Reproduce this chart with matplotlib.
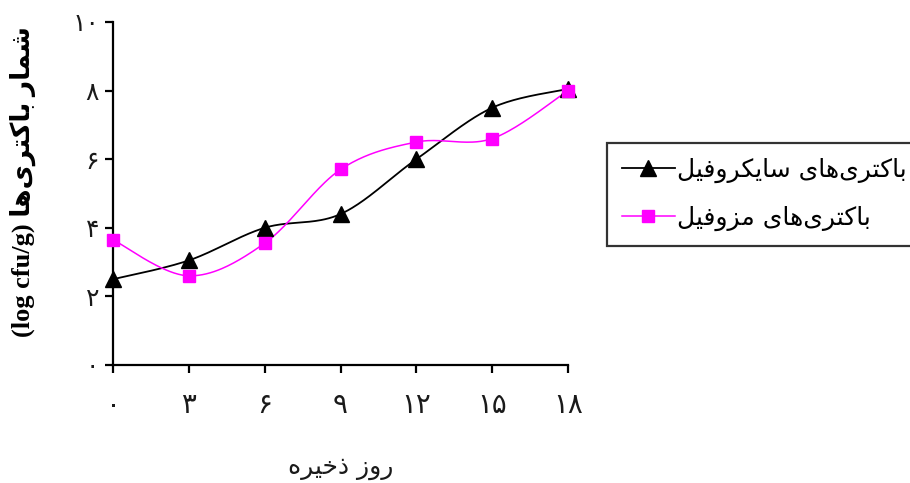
import numpy as np
import matplotlib
matplotlib.use("Agg")
import matplotlib.pyplot as plt
from matplotlib.lines import Line2D

# ---------------- data ----------------
days = [0, 3, 6, 9, 12, 15, 18]
psychro = [2.5, 3.05, 4.0, 4.4, 6.0, 7.5, 8.05]
meso = [3.65, 2.6, 3.55, 5.7, 6.5, 6.6, 8.0]

x_ticks = [0, 3, 6, 9, 12, 15, 18]
x_tick_labels = ['۰', '۳', '۶', '۹', '۱۲', '۱۵', '۱۸']
y_ticks = [0, 2, 4, 6, 8, 10]
y_tick_labels = ['۰', '۲', '۴', '۶', '۸', '۱۰']

label_psychro = 'باکتری‌های سایکروفیل'
label_meso = 'باکتری‌های مزوفیل'
x_title = 'روز ذخیره'
y_title_fa = 'شمار باکتری‌ها'
y_title_unit = '(log cfu/g)'

# ------------- minimal Persian shaping (presentation forms, visual order) -------------
FORMS = {  # isolated, final, initial, medial
    'ا': ('\uFE8D', '\uFE8E', None, None),
    'ب': ('\uFE8F', '\uFE90', '\uFE91', '\uFE92'),
    'ت': ('\uFE95', '\uFE96', '\uFE97', '\uFE98'),
    'خ': ('\uFEA5', '\uFEA6', '\uFEA7', '\uFEA8'),
    'ذ': ('\uFEAB', '\uFEAC', None, None),
    'ر': ('\uFEAD', '\uFEAE', None, None),
    'ز': ('\uFEAF', '\uFEB0', None, None),
    'س': ('\uFEB1', '\uFEB2', '\uFEB3', '\uFEB4'),
    'ش': ('\uFEB5', '\uFEB6', '\uFEB7', '\uFEB8'),
    'ف': ('\uFED1', '\uFED2', '\uFED3', '\uFED4'),
    'ک': ('\uFB8E', '\uFB8F', '\uFB90', '\uFB91'),
    'ل': ('\uFEDD', '\uFEDE', '\uFEDF', '\uFEE0'),
    'م': ('\uFEE1', '\uFEE2', '\uFEE3', '\uFEE4'),
    'ه': ('\uFEE9', '\uFEEA', '\uFEEB', '\uFEEC'),
    'و': ('\uFEED', '\uFEEE', None, None),
    'ی': ('\uFBFC', '\uFBFD', '\uFBFE', '\uFBFF'),
}


def rtl(text):
    out = []
    n = len(text)
    for i, c in enumerate(text):
        if c == '\u200c':
            continue
        if c not in FORMS:
            out.append(c)
            continue
        p = text[i - 1] if i > 0 else ''
        q = text[i + 1] if i < n - 1 else ''
        jp = p in FORMS and FORMS[p][2] is not None
        jn = q in FORMS and FORMS[c][2] is not None
        f = FORMS[c]
        if jp and jn:
            out.append(f[3])
        elif jp:
            out.append(f[1])
        elif jn:
            out.append(f[2])
        else:
            out.append(f[0])
    return ''.join(reversed(out))


def smooth(x, y, n=40):
    x = np.asarray(x, float)
    y = np.asarray(y, float)
    P = np.column_stack([x, y])
    P = np.vstack([P[0], P, P[-1]])
    xs, ys = [], []
    t = np.linspace(0, 1, n)
    for i in range(1, len(P) - 2):
        p0, p1, p2, p3 = P[i - 1], P[i], P[i + 1], P[i + 2]
        c1 = p1 + (p2 - p0) / 6.0
        c2 = p2 - (p3 - p1) / 6.0
        b = ((1 - t) ** 3)[:, None] * p1 + (3 * (1 - t) ** 2 * t)[:, None] * c1 \
            + (3 * (1 - t) * t ** 2)[:, None] * c2 + (t ** 3)[:, None] * p2
        xs.extend(b[:, 0])
        ys.extend(b[:, 1])
    return np.array(xs), np.array(ys)


FA = ['DejaVu Sans']
TXT = '#1a1a1a'

fig = plt.figure(figsize=(9.1, 4.83), dpi=100)
ax = fig.add_axes([113 / 910, 1 - 365 / 483, 455 / 910, 343 / 483])

sx, sy = smooth(days, psychro)
ax.plot(sx, sy, color='black', lw=1.3, clip_on=False, zorder=3)
ax.plot(days, psychro, ls='none', marker='^', ms=12, color='black', clip_on=False, zorder=4)
mx, my = smooth(days, meso)
ax.plot(mx, my, color='#FF00FF', lw=1.1, clip_on=False, zorder=3)
ax.plot(days, meso, ls='none', marker='s', ms=8, color='#FF00FF', clip_on=False, zorder=4)

ax.set_xlim(0, 18)
ax.set_ylim(0, 10)
for s in ['top', 'right']:
    ax.spines[s].set_visible(False)
for s in ['left', 'bottom']:
    ax.spines[s].set_linewidth(1.6)

ax.set_xticks(x_ticks)
ax.set_xticklabels(x_tick_labels, family=FA, fontsize=20, color=TXT)
ax.set_yticks(y_ticks)
ax.set_yticklabels(y_tick_labels, family=FA, fontsize=18, color=TXT)
ax.tick_params(axis='x', direction='out', length=6, width=1.6, pad=13)
ax.tick_params(axis='y', direction='out', length=6, width=1.6, pad=4)

ax.set_xlabel(rtl(x_title), family=FA, fontsize=18, color=TXT, labelpad=26)
fig.text(0.025, 1 - 182 / 483, y_title_unit + ' ' + rtl(y_title_fa), rotation=90,
         ha='center', va='center', fontsize=19, fontweight='bold',
         family=['Liberation Serif', 'DejaVu Sans'])

handles = [Line2D([], [], color='black', lw=1.3, marker='^', ms=12),
           Line2D([], [], color='#FF00FF', lw=1.1, marker='s', ms=8)]
leg = fig.legend(handles, [rtl(label_psychro), rtl(label_meso)],
                 loc='upper left', bbox_to_anchor=(607 / 910, 1 - 243 / 483, 0.4, 100 / 483),
                 mode='expand', frameon=True, fancybox=False, handlelength=2.1,
                 handletextpad=0.1, borderpad=0.6, labelspacing=0.9,
                 prop={'family': FA, 'size': 18}, borderaxespad=0)
leg.get_frame().set_edgecolor('black')
leg.get_frame().set_linewidth(1.6)

fig.savefig('out.png', dpi=100)
